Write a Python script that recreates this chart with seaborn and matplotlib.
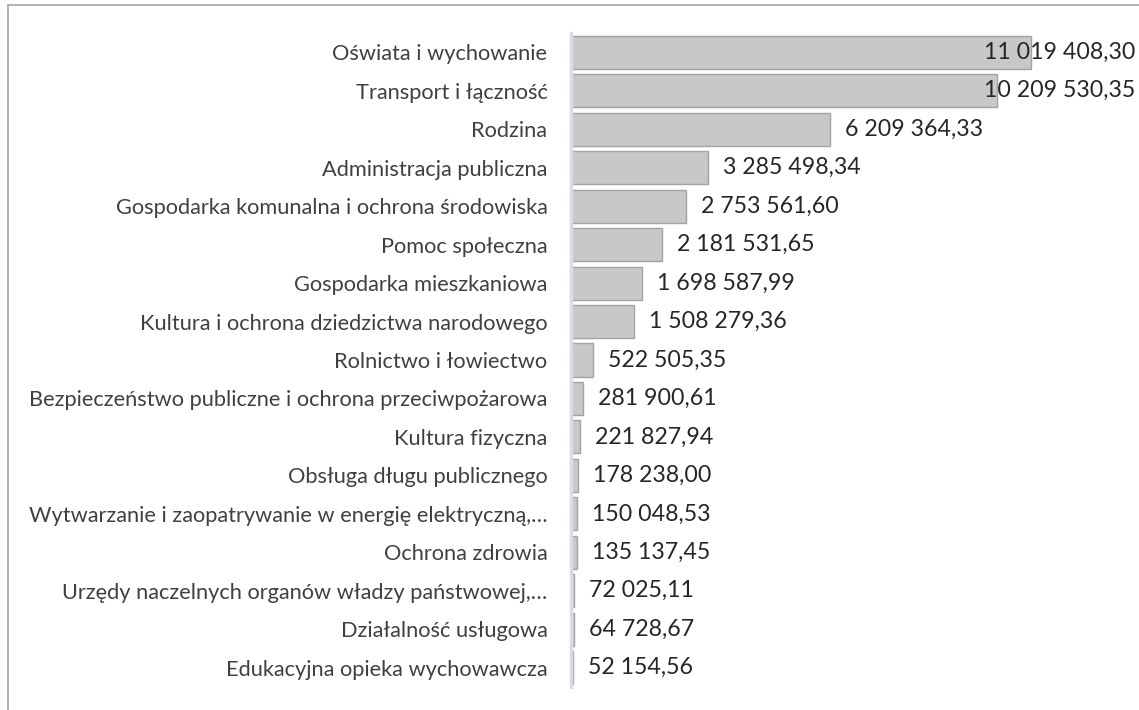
import pandas as pd
import matplotlib.pyplot as plt
import matplotlib.lines as mlines
import seaborn as sns

# Dane: wydatki wg działów
dzialy = [
    'Oświata i wychowanie',
    'Transport i łączność',
    'Rodzina',
    'Administracja publiczna',
    'Gospodarka komunalna i ochrona środowiska',
    'Pomoc społeczna',
    'Gospodarka mieszkaniowa',
    'Kultura i ochrona dziedzictwa narodowego',
    'Rolnictwo i łowiectwo',
    'Bezpieczeństwo publiczne i ochrona przeciwpożarowa',
    'Kultura fizyczna',
    'Obsługa długu publicznego',
    'Wytwarzanie i zaopatrywanie w energię elektryczną,…',
    'Ochrona zdrowia',
    'Urzędy naczelnych organów władzy państwowej,…',
    'Działalność usługowa',
    'Edukacyjna opieka wychowawcza',
]
kwoty = [
    11019408.30, 10209530.35, 6209364.33, 3285498.34, 2753561.60,
    2181531.65, 1698587.99, 1508279.36, 522505.35, 281900.61,
    221827.94, 178238.00, 150048.53, 135137.45, 72025.11,
    64728.67, 52154.56,
]

df = pd.DataFrame({'Dzial': dzialy, 'Kwota': kwoty})


def fmt_pl(v):
    s = f'{v:,.2f}'
    return s.replace(',', ' ').replace('.', ',')


sns.set_style('white')
plt.rcParams['font.family'] = ['Lato', 'DejaVu Sans']

fig = plt.figure(figsize=(11.39, 7.10), dpi=100)
ax = fig.add_axes([571 / 1139, 1 - 687 / 710, 1 - 571 / 1139, 654 / 710])

sns.barplot(data=df, y='Dzial', x='Kwota', orient='h', color='#c8c8c8',
            edgecolor='#a3a3a3', linewidth=1.0, width=0.86, saturation=1,
            ax=ax)

ax.set_xlim(0, 13.6e6)
ax.set_ylim(len(dzialy) - 0.5, -0.5)
ax.set_xlabel('')
ax.set_ylabel('')
ax.set_xticks([])
for side in ['top', 'right', 'bottom']:
    ax.spines[side].set_visible(False)
ax.spines['left'].set_color('#d9dce6')
ax.spines['left'].set_linewidth(2.5)
ax.tick_params(axis='y', length=0, pad=17, labelsize=15.7, labelcolor='#404040')

# Etykiety wartości
fig.canvas.draw()
renderer = fig.canvas.get_renderer()
px_per_unit = ax.transData.transform((1e6, 0))[0] - ax.transData.transform((0, 0))[0]
pad = 15 / px_per_unit * 1e6
limit_px = 1135
for i, v in enumerate(kwoty):
    t = ax.text(v + pad, i, fmt_pl(v), va='center', ha='left', fontsize=16.7,
                color='#262626')
    bb = t.get_window_extent(renderer)
    if bb.x1 > limit_px:
        t.set_transform(fig.transFigure)
        t.set_position((limit_px / 1139, ax.transData.transform((0, i))[1] / 710))
        t.set_ha('right')

# Ramka wykresu (widoczna część)
fig.add_artist(mlines.Line2D([8 / 1139, 1], [1 - 5 / 710, 1 - 5 / 710],
                             transform=fig.transFigure, color='#a6a6a6', lw=1.2))
fig.add_artist(mlines.Line2D([8 / 1139, 8 / 1139], [0, 1 - 5 / 710],
                             transform=fig.transFigure, color='#a6a6a6', lw=1.2))

fig.savefig('out.png', dpi=100)
